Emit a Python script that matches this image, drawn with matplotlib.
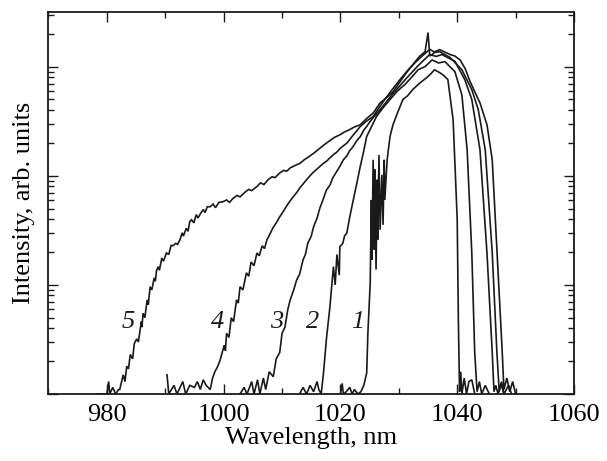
import matplotlib
matplotlib.use("Agg")
import matplotlib.pyplot as plt
from matplotlib.ticker import LogLocator, NullFormatter, MultipleLocator

# ---- data ----
wl1 = [1020.0, 1020.3, 1020.5, 1021.0, 1021.6, 1022.0, 1022.4, 1023.0, 1023.5, 1024.0,
       1024.5, 1024.7, 1025.1,
       1025.3, 1025.4, 1025.6, 1025.8, 1025.9, 1026.1, 1026.3, 1026.4, 1026.6, 1026.8,
       1027.1, 1027.3, 1027.5, 1027.6, 1028.0, 1028.5, 1029.0, 1029.8, 1030.7, 1031.5,
       1032.4, 1033.5, 1034.8, 1035.4, 1036.1, 1037.0, 1037.7, 1038.4, 1039.3, 1040.0,
       1040.2, 1040.4, 1040.6, 1040.8, 1041.2, 1041.6, 1042.0, 1042.5, 1043.0]
in1 = [1.0, 1.25, 1.0, 1.05, 1.15, 1.0, 1.1, 1.0, 1.05, 1.2,
       1.56, 3.6, 10.4,
       60, 17, 140, 21, 114, 13.8, 92, 26, 155, 32,
       102, 35.5, 140, 60, 140, 230, 293, 380, 500, 540,
       617, 700, 795, 850, 935, 880, 830, 760, 325, 40,
       4.8, 1.05, 1.6, 1.0, 1.4, 1.0, 1.3, 1.35, 1.0]

wl2 = [1013.0, 1013.6, 1014.2, 1014.8, 1015.4, 1016.0, 1016.3, 1016.7, 1017.1, 1017.6,
       1018.2, 1018.8, 1019.1, 1019.4, 1019.8, 1019.9, 1020.4, 1020.7, 1021.1, 1021.6,
       1022.2, 1022.8, 1023.4, 1023.9, 1024.5, 1025.3, 1026.2, 1027.3, 1028.5, 1029.8,
       1031.1, 1032.2, 1033.3, 1034.5, 1035.7, 1036.8, 1037.9, 1039.6, 1040.8, 1041.7,
       1042.5, 1043.0, 1043.4, 1043.8, 1044.2, 1044.8, 1045.5]
in2 = [1.0, 1.15, 1.0, 1.2, 1.05, 1.3, 1.1, 1.0, 1.56, 3.2,
       6.3, 14.7, 10, 19, 12.3, 22.4, 24, 28, 30, 42,
       60, 85, 122, 160, 229, 280, 350, 420, 500, 600,
       690, 800, 935, 1000, 1150, 1080, 1110, 900, 550, 173,
       19.6, 2.4, 1.05, 1.3, 1.0, 1.2, 1.0]

wl3 = [1002.8, 1003.5, 1004.0, 1004.8, 1005.2, 1005.8, 1006.2, 1006.8, 1007.2, 1007.8,
       1008.5, 1009.0, 1009.6, 1010.0, 1010.5, 1011.0, 1011.4, 1012.0, 1012.5, 1013.0,
       1013.6, 1014.0, 1014.4, 1015.0, 1015.4, 1016.0, 1016.5, 1017.0, 1017.6, 1018.2,
       1018.7, 1019.3, 1019.9, 1020.5, 1021.1, 1021.6, 1022.2, 1022.8, 1023.4, 1024.0,
       1024.5, 1025.0, 1025.6, 1026.2, 1026.8, 1027.8, 1028.8, 1030.0, 1031.1, 1032.2,
       1033.3, 1034.3, 1035.3, 1036.4, 1037.4, 1038.5, 1039.6, 1041.3, 1042.5, 1043.9,
       1045.1, 1046.0, 1046.3, 1046.6, 1047.0, 1047.5, 1048.0]
in3 = [1.0, 1.15, 1.0, 1.3, 1.0, 1.35, 1.0, 1.4, 1.1, 1.6,
       1.44, 2.1, 2.4, 3.6, 4.1, 6.0, 7.3, 9.0, 11.1, 12.5,
       17, 19, 24, 28, 34, 41, 51, 60, 74, 82,
       96, 108, 122, 140, 152, 170, 186, 210, 228, 262,
       283, 310, 340, 370, 405, 470, 550, 650, 760, 880,
       1020, 1150, 1290, 1240, 1290, 1200, 1120, 760, 500, 173,
       19.6, 2.4, 1.05, 1.2, 1.0, 1.25, 1.0]

wl4 = [990.3, 990.6, 991.5, 992.0, 993.0, 993.5, 994.2, 995.0, 995.5, 996.0,
       996.5, 997.0,
       997.7, 998.1, 998.5, 999.0, 999.4, 1000.1, 1000.3, 1000.5, 1000.9, 1001.3, 1001.7,
       1002.2, 1002.5, 1002.8, 1003.3, 1003.9, 1004.3, 1004.7, 1005.2, 1005.7, 1006.1,
       1006.6, 1007.0, 1007.4, 1007.9, 1008.4, 1009.0, 1009.6, 1010.2, 1010.8, 1011.3,
       1011.9, 1012.5, 1013.1, 1013.6, 1014.2, 1014.8, 1015.3, 1015.9, 1016.5, 1017.1,
       1017.7, 1018.2, 1018.8, 1019.4, 1019.9, 1020.5, 1021.1, 1021.6, 1022.1, 1022.8,
       1023.4, 1024.5, 1025.6, 1026.6, 1027.6, 1028.9, 1030.2, 1031.5, 1032.8, 1034.0,
       1035.3, 1036.2, 1037.0, 1038.8, 1040.8, 1042.5, 1043.6, 1044.8, 1046.0,
       1046.8, 1047.2, 1047.6, 1048.0, 1048.8, 1049.3]
in4 = [1.5, 1.0, 1.2, 1.0, 1.3, 1.0, 1.2, 1.15, 1.3, 1.1,
       1.35, 1.2,
       1.1, 1.4, 1.6, 1.8, 2.05, 2.8, 2.5, 3.6, 3.3, 5.0, 4.6,
       7.3, 6.8, 9.6, 9.0, 12.9, 12.0, 16.2, 15.0, 19.6, 18.5,
       22.8, 21.5, 25.8, 29, 33, 37, 42, 47, 53, 58,
       64, 70, 78, 84, 92, 100, 107, 114, 122, 130,
       137, 146, 156, 165, 177, 188, 199, 215, 233, 258,
       283, 318, 348, 420, 500, 620, 760, 920, 1090, 1250,
       1440, 1350, 1370, 1210, 935, 615, 405, 173, 19.6,
       2.4, 1.05, 1.3, 1.0, 1.2, 1.0]

wl5 = [978.5, 979.2, 980.0, 980.3, 980.5, 981.0, 981.5, 982.0,
       982.2, 982.8, 983.1, 983.4, 983.7, 984.0, 984.4, 984.7, 985.1, 985.4,
       985.7, 985.9, 986.0, 986.2, 986.5, 986.9, 987.1, 987.4, 987.7, 988.1,
       988.3, 988.5, 988.8, 989.0, 989.4, 989.7, 990.2, 990.6, 991.0, 991.3,
       991.8, 992.1, 992.5, 992.9, 993.1, 993.6, 993.9, 994.2, 994.5, 994.9,
       995.3, 995.6, 996.0, 996.5, 996.8, 997.2, 997.7, 998.2, 998.6, 999.2,
       999.8, 1000.5, 1001.0, 1001.6, 1002.3, 1002.8, 1003.7, 1004.3, 1004.8, 1005.7,
       1006.3, 1006.9, 1007.6, 1008.3, 1008.8, 1009.6, 1010.3, 1010.8, 1011.4, 1012.2,
       1013.1, 1013.8, 1014.8, 1015.5, 1016.5, 1017.2, 1018.2, 1019.0, 1019.9, 1020.7,
       1021.6, 1022.4, 1023.4, 1024.5, 1025.6, 1026.8, 1027.9,
       1029.0, 1030.0, 1031.1, 1032.0, 1032.8, 1033.6, 1034.5, 1035.0, 1035.3, 1035.7,
       1036.3, 1037.0, 1038.0, 1038.8, 1039.6, 1040.5, 1041.4, 1042.2,
       1043.9, 1045.1, 1046.0, 1046.8, 1047.7, 1048.0, 1048.5, 1049.0, 1049.5, 1050.0]
in5 = [1.0, 1.0, 1.0, 1.3, 1.0, 1.15, 1.0, 1.1,
       1.1, 1.5, 1.3, 1.8, 1.7, 2.3, 2.1, 2.9, 3.2, 3.0,
       3.9, 4.6, 4.1, 5.5, 5.0, 7.3, 6.6, 9.6, 9.0, 11.6,
       10.8, 13.5, 14.7, 13.6, 17.6, 16.5, 19.6, 19.0, 23, 22.8,
       24, 23.5, 25.8, 30, 28, 33, 31, 38, 39.5, 37,
       44, 41, 44.7, 49, 46, 52, 52, 55, 51, 57,
       57.6, 60, 57, 62, 66, 64, 71, 75, 73, 79.7,
       86, 83, 92, 98, 96, 106, 112, 110, 118, 124,
       130, 140, 152, 162, 179, 192, 210, 225, 237, 252,
       265, 280, 293, 335, 375, 465, 520,
       587, 700, 850, 980, 1110, 1250, 1370, 2050, 1250, 1290,
       1380, 1430, 1350, 1290, 1250, 1150, 950, 730,
       465, 293, 140, 21, 2.5, 1.1, 1.4, 1.05, 1.3, 1.0]

curve_labels = ["1", "2", "3", "4", "5"]
label_x = [1023.0, 1015.3, 1009.1, 998.9, 983.6]
label_y = [4.6, 4.6, 4.6, 4.6, 4.6]

x_ticks = [980, 1000, 1020, 1040, 1060]

# ---- figure ----
plt.rcParams['font.family'] = ['Liberation Serif', 'DejaVu Serif']
fig = plt.figure(figsize=(6.07, 4.61), dpi=100)
ax = fig.add_axes([0.0799, 0.1453, 0.8657, 0.8286])

ink = "#1a1a1a"
for wl, inten in [(wl1, in1), (wl2, in2), (wl3, in3), (wl4, in4), (wl5, in5)]:
    ax.plot(wl, inten, color=ink, lw=1.2, solid_joinstyle='miter')

for t, x, y in zip(curve_labels, label_x, label_y):
    ax.text(x, y, t, fontsize=19, style='italic', ha='center', va='center', color=ink)

ax.set_yscale('log')
ax.set_xlim(970, 1060)
ax.set_ylim(1, 10 ** 3.5)
ax.set_xticks(x_ticks)
ax.set_xticklabels([str(v) for v in x_ticks])
ax.xaxis.set_minor_locator(MultipleLocator(10))
ax.yaxis.set_major_locator(LogLocator(base=10))
ax.yaxis.set_minor_locator(LogLocator(base=10, subs=range(2, 10)))
ax.yaxis.set_major_formatter(NullFormatter())
ax.yaxis.set_minor_formatter(NullFormatter())

ax.tick_params(which='both', direction='in', top=True, right=True, color=ink)
ax.tick_params(which='major', length=7, width=1.0, labelsize=19, pad=7)
ax.tick_params(which='minor', length=4, width=1.0)
for s in ax.spines.values():
    s.set_linewidth(1.3)
    s.set_color(ink)

ax.set_xlabel("Wavelength, nm", fontsize=19, labelpad=1)
ax.set_ylabel("Intensity, arb. units", fontsize=19, labelpad=3)

fig.savefig("out.png", dpi=100)
